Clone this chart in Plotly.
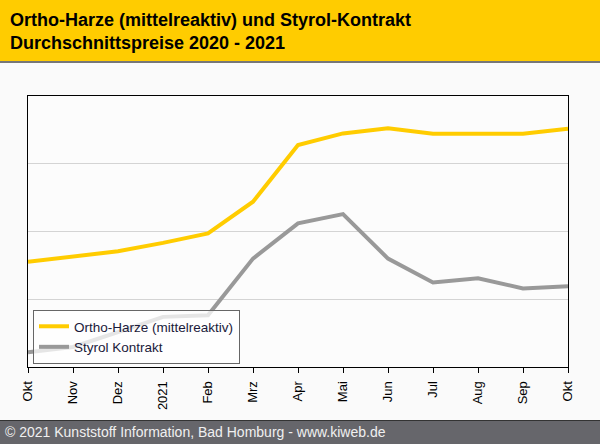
import plotly.graph_objects as go

# months Okt 2020 .. Okt 2021
months = list(range(13))
tickLabels = ["Okt", "Nov", "Dez", "2021", "Feb", "Mrz", "Apr", "Mai", "Jun", "Jul", "Aug", "Sep", "Okt"]

# values (index, no scale shown)
orthoHarze = [38.8, 40.6, 42.7, 45.8, 49.3, 61.0, 81.9, 86.2, 88.1, 86.1, 86.1, 86.1, 87.9]
styrolKontrakt = [5.4, 7.4, 12.9, 18.5, 19.1, 40.0, 53.0, 56.4, 40.0, 31.2, 32.7, 29.0, 29.8]

W, H = 600, 444
mL, mR, mT, mB = 28, 32, 96, 77
plotW = W - mL - mR
plotH = H - mT - mB


def px(pix):
    # pixel column -> paper x
    return (pix - mL) / plotW


def py(pix):
    # pixel row -> paper y
    return (H - mB - pix) / plotH


fig = go.Figure()
fig.add_trace(go.Scatter(x=months, y=orthoHarze, mode='lines',
                         name='Ortho-Harze (mittelreaktiv)',
                         line=dict(color='#FFCC00', width=4)))
fig.add_trace(go.Scatter(x=months, y=styrolKontrakt, mode='lines',
                         name='Styrol Kontrakt',
                         line=dict(color='#999999', width=4)))

shapes = [
    # yellow title band
    dict(type='rect', xref='paper', yref='paper', x0=px(0), x1=px(W),
         y0=py(61), y1=py(0), fillcolor='#FFCC00', line_width=0, layer='below'),
    dict(type='line', xref='paper', yref='paper', x0=px(0), x1=px(W),
         y0=py(62), y1=py(62), line=dict(color='#777777', width=2)),
    # footer band
    dict(type='rect', xref='paper', yref='paper', x0=px(0), x1=px(W),
         y0=py(H), y1=py(420), fillcolor='#66666b', line_width=0, layer='below'),
    dict(type='line', xref='paper', yref='paper', x0=px(0), x1=px(W),
         y0=py(420.5), y1=py(420.5), line=dict(color='#333333', width=1)),
]

annotations = [
    dict(text='<b>Ortho-Harze (mittelreaktiv) und Styrol-Kontrakt<br>Durchschnittspreise 2020 - 2021</b>',
         xref='paper', yref='paper', x=px(8), y=py(8), xanchor='left', yanchor='top',
         align='left', showarrow=False,
         font=dict(family='Liberation Sans, Arial', size=18, color='#000000')),
    dict(text='© 2021 Kunststoff Information, Bad Homburg - www.kiweb.de',
         xref='paper', yref='paper', x=px(3), y=py(432), xanchor='left', yanchor='middle',
         showarrow=False,
         font=dict(family='Liberation Sans, Arial', size=14, color='#f0f0f0')),
]

fig.update_layout(
    width=W, height=H,
    margin=dict(l=mL, r=mR, t=mT, b=mB),
    paper_bgcolor='#FAFAFA',
    plot_bgcolor='#FCFCFC',
    font=dict(family='Liberation Sans, Arial', size=13, color='#000000'),
    shapes=shapes,
    annotations=annotations,
    legend=dict(x=px(33), y=py(337), xanchor='left', yanchor='middle',
                bgcolor='rgba(255,255,255,0.75)', bordercolor='#666666', borderwidth=1,
                font=dict(size=13.5, color='#1a1a3a'), tracegroupgap=0,
                itemwidth=30),
    showlegend=True,
)
fig.update_xaxes(range=[0, 12], tickvals=months, ticktext=tickLabels, tickangle=-90,
                 showgrid=False, showline=True, mirror=True, linecolor='#000000', linewidth=1,
                 ticks='outside', ticklen=5, tickcolor='#000000', zeroline=False,
                 ticklabelstandoff=3, tickfont=dict(size=13))
fig.update_yaxes(range=[0, 100], dtick=25, showticklabels=False, showgrid=True,
                 gridcolor='#d4d4d4', showline=True, mirror=True, linecolor='#000000',
                 linewidth=1, ticks='', zeroline=False)

# drop the browser's default page margin so the chart sits at 0,0
fig.write_html("out.html", config={'displayModeBar': False},
               post_script="document.body.style.margin='0';")
